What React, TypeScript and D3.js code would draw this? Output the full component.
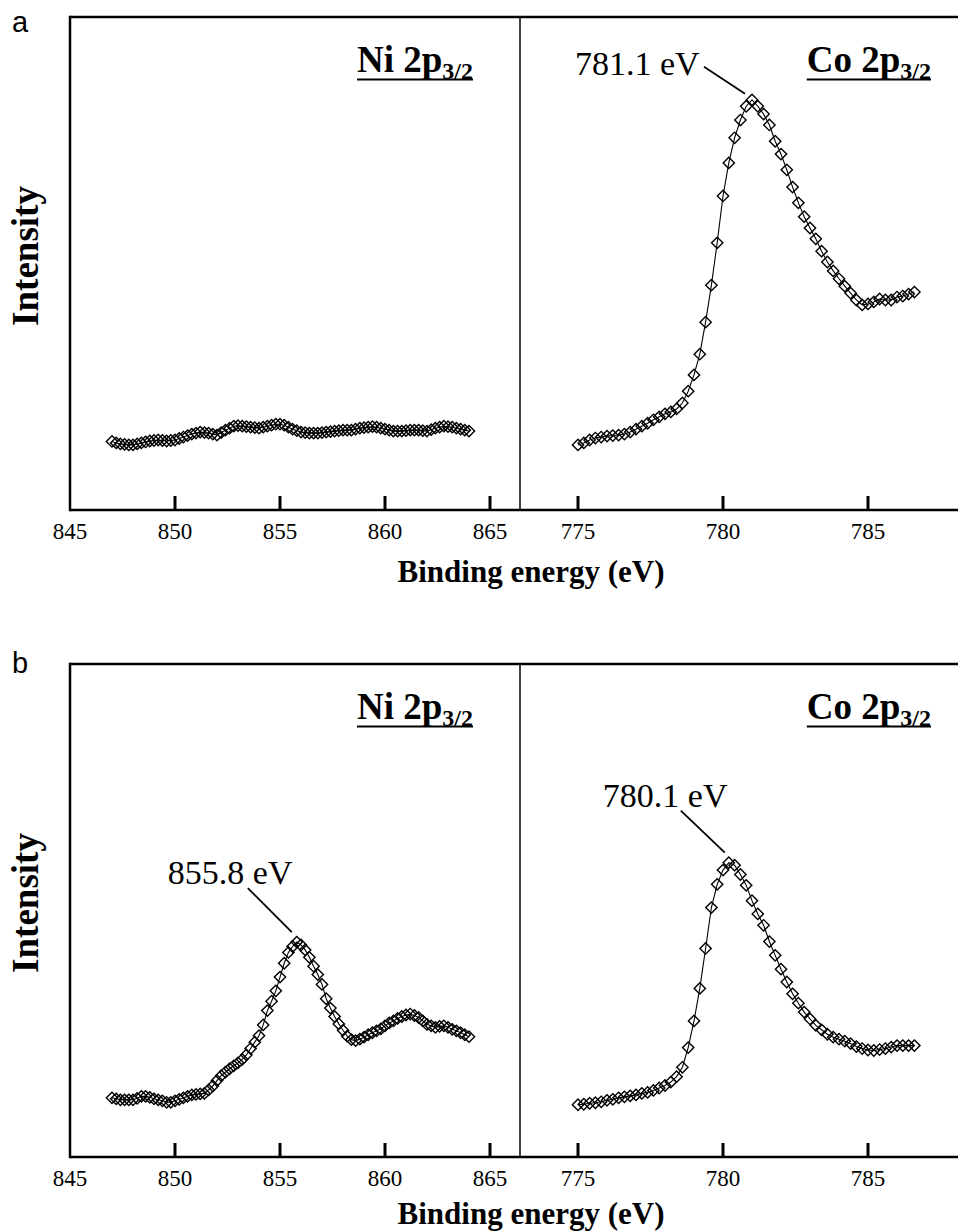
import React, { useEffect, useRef } from 'react';
import * as d3 from 'd3';

const W = 958;
const H = 1232;

// Sampling grids (binding energy, eV) – instrument step 0.2 eV
const NI_ENERGY = d3.range(0, 86).map((i) => +(847.0 + i * 0.2).toFixed(1));
const CO_ENERGY = d3.range(0, 59).map((i) => +(775.0 + i * 0.2).toFixed(1));

// Tick labels
const NI_TICKS = [845, 850, 855, 860, 865];
const CO_TICKS = [775, 780, 785];

// Panel a – intensity (arb. units, 0..100 of the frame height)
const NI_A = [
  13.9, 13.6, 13.4, 13.3, 13.2, 13.2, 13.4, 13.6, 13.8, 14.0,
  14.1, 14.2, 14.1, 14.0, 14.1, 14.2, 14.5, 14.8, 15.1, 15.4,
  15.6, 15.8, 15.7, 15.6, 15.4, 15.2, 15.7, 16.2, 16.6, 17.0,
  17.1, 17.0, 16.9, 16.8, 16.7, 16.6, 16.8, 17.0, 17.2, 17.4,
  17.4, 17.2, 16.8, 16.4, 16.1, 15.8, 15.7, 15.6, 15.6, 15.6,
  15.7, 15.8, 15.9, 16.0, 16.1, 16.2, 16.2, 16.2, 16.4, 16.6,
  16.7, 16.8, 16.9, 16.8, 16.6, 16.4, 16.2, 16.0, 16.0, 16.0,
  16.1, 16.2, 16.2, 16.2, 16.1, 16.0, 16.3, 16.6, 16.8, 17.0,
  16.9, 16.8, 16.6, 16.4, 16.2, 16.0,
];
const CO_A = [
  13.2, 13.6, 14.2, 14.6, 14.8, 15.0, 15.1, 15.2, 15.4, 15.8,
  16.4, 17.0, 17.6, 18.3, 18.9, 19.5, 19.9, 20.5, 21.7, 24.1,
  27.4, 31.6, 38.1, 45.6, 54.2, 63.7, 70.4, 75.5, 79.1, 81.9,
  83.2, 81.9, 80.3, 78.1, 74.8, 72.2, 69.0, 65.5, 62.3, 59.5,
  57.2, 55.0, 52.5, 50.3, 48.5, 46.9, 45.4, 44.0, 42.6, 41.6,
  41.8, 42.2, 42.8, 42.6, 42.6, 43.2, 43.4, 43.8, 44.2,
];

// Panel b
const NI_B = [
  12.0, 11.8, 11.6, 11.6, 11.6, 11.6, 11.9, 12.3, 12.3, 12.1,
  11.8, 11.6, 11.4, 11.1, 11.1, 11.4, 11.7, 12.0, 12.3, 12.6,
  12.7, 12.8, 12.9, 13.6, 14.4, 15.5, 16.5, 17.2, 17.9, 18.5,
  19.1, 19.8, 20.7, 22.0, 23.3, 24.6, 26.8, 29.7, 31.6, 33.7,
  36.5, 39.3, 41.5, 42.7, 43.6, 43.0, 42.0, 40.5, 38.7, 37.0,
  35.0, 32.1, 30.2, 28.5, 27.0, 25.7, 24.5, 23.8, 23.6, 23.9,
  24.3, 24.8, 25.2, 25.6, 26.0, 26.6, 27.2, 27.6, 28.1, 28.5,
  28.8, 29.0, 28.7, 28.3, 27.6, 26.9, 26.6, 26.3, 26.5, 26.6,
  26.3, 25.9, 25.6, 25.2, 24.8, 24.4,
];
const CO_B = [
  10.6, 10.7, 10.9, 11.0, 11.2, 11.5, 11.7, 12.0, 12.2, 12.4,
  12.6, 12.9, 13.1, 13.5, 14.0, 14.5, 15.2, 16.3, 18.2, 22.2,
  27.6, 34.2, 42.3, 50.6, 55.3, 58.2, 59.7, 59.2, 57.3, 55.1,
  52.0, 49.3, 47.0, 43.7, 40.9, 38.1, 35.5, 33.1, 31.2, 29.4,
  28.0, 26.7, 25.8, 24.9, 24.3, 23.9, 23.5, 23.0, 22.4, 22.0,
  21.7, 21.6, 21.8, 22.0, 22.3, 22.6, 22.6, 22.6, 22.6,
];

// Peak annotations (label text, peak energy, text / leader offsets from the peak marker)
const PEAKS_A = [
  { side: 'co', e: 781.0, text: '781.1 eV', tx: -177, ty: -25, l1: [-48, -33], l2: [-7, -6] },
];
const PEAKS_B = [
  { side: 'ni', e: 855.8, text: '855.8 eV', tx: -129, ty: -58, l1: [-49, -54], l2: [-5, -10] },
  { side: 'co', e: 780.2, text: '780.1 eV', tx: -126, ty: -56, l1: [-48, -52], l2: [-4, -10] },
];

const PANELS = [
  { letter: 'a', top: 17, letterY: 32, xLabelDy: 72, ni: NI_A, co: CO_A, peaks: PEAKS_A },
  { letter: 'b', top: 664, letterY: 673, xLabelDy: 67, ni: NI_B, co: CO_B, peaks: PEAKS_B },
];

const SERIF = '"Liberation Serif", "Times New Roman", Times, serif';
const SANS = '"Liberation Sans", Arial, Helvetica, sans-serif';

export default function App() {
  const ref = useRef<SVGSVGElement>(null);

  useEffect(() => {
    const svg = d3.select(ref.current);
    svg.selectAll('*').remove();
    svg.append('rect').attr('width', W).attr('height', H).attr('fill', '#fff');

    const plotH = 493;
    const left = 70;
    const split = 520;

    PANELS.forEach((p) => {
      const T = p.top;
      const B = T + plotH;
      const g = svg.append('g');

      const xNi = d3.scaleLinear().domain([845, 845 + 450 / 21]).range([left, split]);
      const xCo = d3.scaleLinear().domain([773, 789]).range([split, 984]);
      const y = d3.scaleLinear().domain([0, 100]).range([B, T]);

      // frame
      g.append('line').attr('x1', left).attr('x2', 990).attr('y1', T).attr('y2', T)
        .attr('stroke', '#000').attr('stroke-width', 2.5);
      g.append('line').attr('x1', left).attr('x2', 990).attr('y1', B).attr('y2', B)
        .attr('stroke', '#000').attr('stroke-width', 2.5);
      g.append('line').attr('x1', left).attr('x2', left).attr('y1', T - 1.2).attr('y2', B + 1.2)
        .attr('stroke', '#000').attr('stroke-width', 2.5);
      g.append('line').attr('x1', split).attr('x2', split).attr('y1', T).attr('y2', B)
        .attr('stroke', '#000').attr('stroke-width', 1.5);

      // series
      const drawSeries = (xs: number[], vs: number[], x: any) => {
        const data = xs.map((e, i) => ({ e, v: vs[i] })).filter((d) => d.v !== undefined);
        const line = d3.line<any>().x((d) => x(d.e)).y((d) => y(d.v));
        g.append('path').datum(data).attr('d', line).attr('fill', 'none')
          .attr('stroke', '#000').attr('stroke-width', 1.1);
        const sym = d3.symbol().type(d3.symbolSquare).size(64);
        g.append('g').selectAll('path').data(data).join('path')
          .attr('d', sym as any)
          .attr('transform', (d) => `translate(${x(d.e)},${y(d.v)}) rotate(45)`)
          .attr('fill', 'none').attr('stroke', '#000').attr('stroke-width', 1.4);
      };
      drawSeries(NI_ENERGY, p.ni, xNi);
      drawSeries(CO_ENERGY, p.co, xCo);

      // ticks (inward) + tick labels
      const addAxis = (scale: any, ticks: number[]) => {
        const ax = g.append('g');
        ticks.forEach((t) => {
          const tx = scale(t);
          if (tx > left + 2) {
            ax.append('rect')
              .attr('x', tx - 1.5).attr('y', B - 14)
              .attr('width', 3).attr('height', 14)
              .attr('fill', '#000');
          }
          ax.append('text')
            .attr('x', tx).attr('y', B + 29)
            .attr('text-anchor', 'middle')
            .attr('font-family', SERIF).attr('font-size', 23).attr('fill', '#000')
            .text(d3.format('d')(t));
        });
      };
      addAxis(xNi, NI_TICKS);
      addAxis(xCo, CO_TICKS);

      // titles
      const title = (name: string, xEnd: number) => {
        const t = g.append('text').attr('x', xEnd).attr('y', T + 55).attr('text-anchor', 'end')
          .attr('font-family', SERIF).attr('font-weight', 'bold').attr('fill', '#000');
        t.append('tspan').attr('font-size', 37).text(name);
        t.append('tspan').attr('font-size', 24).attr('dy', 7).text('3/2');
        const bb = (t.node() as SVGTextElement).getBBox();
        g.append('line').attr('x1', bb.x).attr('x2', bb.x + bb.width)
          .attr('y1', T + 62.5).attr('y2', T + 62.5).attr('stroke', '#000').attr('stroke-width', 2);
      };
      title('Ni 2p', 473);
      title('Co 2p', 931);

      // peak annotations
      p.peaks.forEach((pk) => {
        const x = pk.side === 'ni' ? xNi : xCo;
        const arr = pk.side === 'ni' ? p.ni : p.co;
        const grid = pk.side === 'ni' ? NI_ENERGY : CO_ENERGY;
        const idx = grid.findIndex((e) => Math.abs(e - pk.e) < 1e-6);
        const px = x(pk.e);
        const py = y(arr[idx]);
        g.append('line')
          .attr('x1', px + pk.l1[0]).attr('y1', py + pk.l1[1])
          .attr('x2', px + pk.l2[0]).attr('y2', py + pk.l2[1])
          .attr('stroke', '#000').attr('stroke-width', 1.8);
        g.append('text').attr('x', px + pk.tx).attr('y', py + pk.ty)
          .attr('font-family', SERIF).attr('font-size', 34).attr('fill', '#000')
          .text(pk.text);
      });

      // y label
      g.append('text')
        .attr('transform', `translate(38,${T + 239}) rotate(-90)`)
        .attr('text-anchor', 'middle')
        .attr('font-family', SERIF).attr('font-weight', 'bold').attr('font-size', 37)
        .attr('fill', '#000').text('Intensity');

      // x label
      g.append('text').attr('x', 531).attr('y', B + p.xLabelDy).attr('text-anchor', 'middle')
        .attr('font-family', SERIF).attr('font-weight', 'bold').attr('font-size', 31)
        .attr('fill', '#000').text('Binding energy (eV)');

      // panel letter
      g.append('text').attr('x', 12).attr('y', p.letterY)
        .attr('font-family', SANS).attr('font-size', 29).attr('fill', '#000')
        .text(p.letter);
    });
  }, []);

  return (
    <svg
      ref={ref}
      width={W}
      height={H}
      style={{ position: 'absolute', left: 0, top: 0, display: 'block' }}
    />
  );
}
